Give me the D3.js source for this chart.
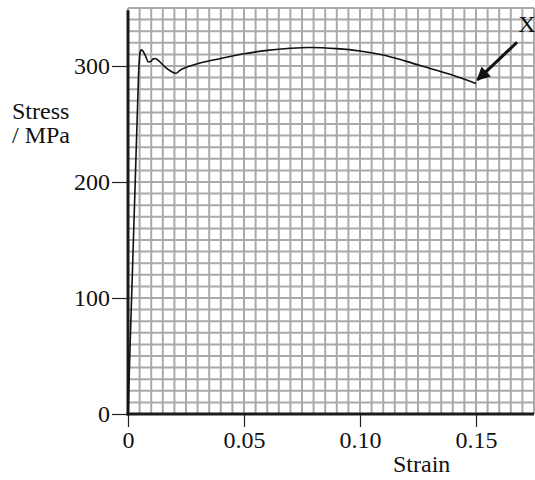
<!DOCTYPE html>
<html>
<head>
<meta charset="utf-8">
<script src="https://cdn.jsdelivr.net/npm/d3@7"></script>
<style>
  body { margin: 0; background: #fff; }
  svg { display: block; }
  text { font-family: "Liberation Serif", "Times New Roman", serif; fill: #111; }
</style>
</head>
<body>
<div id="frame"></div>
<script>
// data
const strain = [0, 0.0046, 0.0050, 0.0054, 0.0058, 0.0064, 0.0075, 0.0088, 0.0098, 0.0108, 0.0117, 0.0135, 0.0160, 0.0185, 0.0200, 0.0207, 0.0225, 0.0260, 0.0310, 0.0400, 0.0500, 0.0600, 0.0700, 0.0780, 0.0900, 0.1000, 0.1100, 0.1200, 0.1300, 0.1400, 0.1500];
const stress = [0, 296, 308, 313, 314, 313, 309, 303.5, 304, 306, 306.5, 304, 299, 295.5, 294, 293.7, 296.5, 299.5, 302.5, 306.5, 310.5, 313.5, 315.3, 316, 315, 313, 309.5, 304, 298, 292, 285];
const xTicks = [0, 0.05, 0.10, 0.15];
const xTickLabels = ["0", "0.05", "0.10", "0.15"];
const yTicks = [0, 100, 200, 300];
const markLabel = "X";
const arrowFrom = [0.1677, 320.5];
const arrowTo = [0.1506, 288];

const width = 535, height = 480;
const fs = 24;
const x = d3.scaleLinear().domain([0, 0.175]).range([128, 534]);
const y = d3.scaleLinear().domain([0, 350]).range([414, 8]);

const svg = d3.select("#frame").append("svg")
  .attr("width", width).attr("height", height);

// graph paper grid, 0.005 strain by 10 MPa
const gx = d3.range(0, 36).map((i) => i * 0.005);
const gy = d3.range(0, 36).map((i) => i * 10);
const grid = svg.append("g").attr("stroke", "#aaaaaa").attr("stroke-width", 2);
grid.selectAll("line.v").data(gx).join("line").attr("class", "v")
  .attr("x1", (d) => x(d)).attr("x2", (d) => x(d))
  .attr("y1", y(0)).attr("y2", y(350));
grid.selectAll("line.h").data(gy).join("line").attr("class", "h")
  .attr("y1", (d) => y(d)).attr("y2", (d) => y(d))
  .attr("x1", x(0)).attr("x2", x(0.175));

// axes
const xAxis = d3.axisBottom(x).tickValues(xTicks)
  .tickFormat((d, i) => xTickLabels[i]).tickSize(13).tickPadding(4);
const yAxis = d3.axisLeft(y).tickValues(yTicks).tickSize(16).tickPadding(2);

const gxa = svg.append("g").attr("transform", `translate(0,${y(0)})`).call(xAxis);
const gya = svg.append("g").attr("transform", `translate(${x(0)},0)`).call(yAxis);
[gxa, gya].forEach((g) => {
  g.select(".domain").remove();
  g.selectAll(".tick line").attr("stroke", "#222").attr("stroke-width", 1.2);
  g.selectAll(".tick text").attr("font-size", fs)
    .style("font-family", '"Liberation Serif", "Times New Roman", serif').attr("fill", "#111");
});
gya.selectAll(".tick text").attr("dy", "0.33em");

svg.append("line").attr("x1", x(0)).attr("x2", x(0)).attr("y1", y(348)).attr("y2", y(0) + 1.5)
  .attr("stroke", "#1a1a1a").attr("stroke-width", 3);
svg.append("line").attr("x1", x(0) - 1.5).attr("x2", x(0.175)).attr("y1", y(0)).attr("y2", y(0))
  .attr("stroke", "#1a1a1a").attr("stroke-width", 3);

// curve
const pts = strain.map((s, i) => [s, stress[i]]);
const line = d3.line().x((d) => x(d[0])).y((d) => y(d[1])).curve(d3.curveMonotoneX);
svg.append("path").datum(pts.slice(1)).attr("d", line)
  .attr("fill", "none").attr("stroke", "#111").attr("stroke-width", 1.6);
svg.append("line").attr("x1", x(pts[0][0])).attr("y1", y(pts[0][1]))
  .attr("x2", x(pts[1][0])).attr("y2", y(pts[1][1]))
  .attr("stroke", "#111").attr("stroke-width", 1.6);

// arrow to point X
svg.append("defs").append("marker").attr("id", "head")
  .attr("viewBox", "0 0 10 10").attr("refX", 9).attr("refY", 5)
  .attr("markerWidth", 5).attr("markerHeight", 4.5).attr("orient", "auto")
  .append("path").attr("d", "M0,0L10,5L0,10z").attr("fill", "#111");
svg.append("line")
  .attr("x1", x(arrowFrom[0])).attr("y1", y(arrowFrom[1]))
  .attr("x2", x(arrowTo[0])).attr("y2", y(arrowTo[1]))
  .attr("stroke", "#111").attr("stroke-width", 3).attr("marker-end", "url(#head)");
svg.append("text").attr("x", 527).attr("y", 32).attr("text-anchor", "middle")
  .attr("font-size", fs).text(markLabel);

// axis titles
svg.append("text").attr("x", 12).attr("y", 119).attr("font-size", fs).text("Stress");
svg.append("text").attr("x", 12).attr("y", 143).attr("font-size", fs).text("/ MPa");
svg.append("text").attr("x", 393).attr("y", 472).attr("font-size", fs).text("Strain");
</script>
</body>
</html>
